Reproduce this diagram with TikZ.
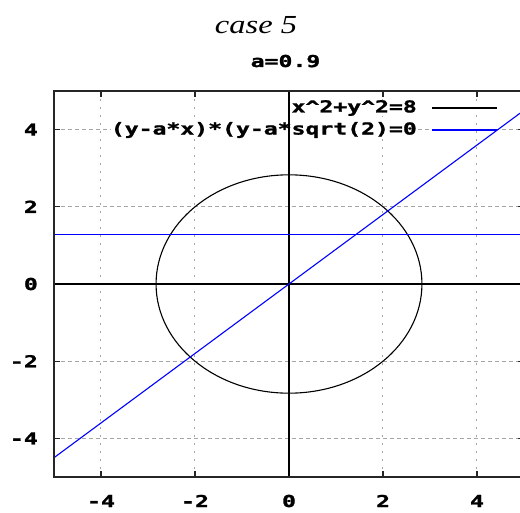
\documentclass[tikz,border=0pt]{standalone}
\usepackage{fontspec}
\newfontfamily\gpfont{DejaVu Sans Mono}[BoldFeatures={FakeBold=1.2}]
\newfontfamily\ttlfont{Liberation Serif}
\newcommand{\gpt}[1]{\scalebox{1.4}[1]{\gpfont\bfseries #1}}
\definecolor{gridgray}{RGB}{165,165,165}
\definecolor{plotblue}{RGB}{0,0,255}
\tikzset{
  lbl/.style={inner sep=0pt,font=\fontsize{16.5}{17}\selectfont},
  key/.style={lbl,anchor=east,fill=white},
  vgrd/.style={gridgray,line width=1pt,dash pattern=on 2pt off 6pt},
  hgrd/.style={gridgray,line width=1pt,dash pattern=on 4pt off 3pt},
  frm/.style={black!85,line width=1.6pt},
  zax/.style={black,line width=1.3pt},
  crv/.style={line width=1.1pt}
}

\begin{document}
\begin{tikzpicture}[x=47pt,y=38.6pt]
\useasboundingbox (-289pt,-228pt) rectangle (231pt,284pt);
\clip (-289pt,-228pt) rectangle (231pt,284pt);

% titles
\node[inner sep=0pt,anchor=base,font=\fontsize{26}{28}\selectfont] (ttl) at (-33pt,251pt) {\scalebox{1.25}[1]{\ttlfont\itshape case 5}};
\node[lbl,anchor=base] (sub) at (-3.5pt,217pt) {\gpt{a=0.9}};

% grid
\draw[vgrd] (-4,-5) -- (-4,5) (-2,-5) -- (-2,5) (2,-5) -- (2,5) (4,-5) -- (4,5);
\draw[hgrd] (-5,-4) -- (5,-4) (-5,-2) -- (5,-2) (-5,2) -- (5,2) (-5,4) -- (5,4);

% key
\node[key] (k1) at (128pt,176pt) {\gpt{x\^{}2+y\^{}2=8}};
\node[key] (k2) at (128pt,154pt) {\gpt{(y-a*x)*(y-a*sqrt(2)=0}};
\coordinate (k1a) at (143pt,176pt);
\coordinate (k1b) at (208pt,176pt);
\coordinate (k2a) at (143pt,154pt);
\coordinate (k2b) at (208pt,154pt);
\draw[crv] (k1a) -- (k1b);
\draw[crv,plotblue] (k2a) -- (k2b);

% zero axes
\draw[zax] (-5,0) -- (5,0);
\draw[zax] (0,-5) -- (0,5);

% tick labels
\node[lbl] (xm4) at (-4,-5) [yshift=-24pt] {\gpt{-4}};
\node[lbl] (xm2) at (-2,-5) [yshift=-24pt] {\gpt{-2}};
\node[lbl] (x0) at (0,-5) [yshift=-24pt] {\gpt{0}};
\node[lbl] (x2) at (2,-5) [yshift=-24pt] {\gpt{2}};
\node[lbl] (x4) at (4,-5) [yshift=-24pt] {\gpt{4}};
\node[lbl,anchor=east] (ym4) at (-5,-4) [xshift=-16pt] {\gpt{-4}};
\node[lbl,anchor=east] (ym2) at (-5,-2) [xshift=-16pt] {\gpt{-2}};
\node[lbl,anchor=east] (y0) at (-5,0) [xshift=-16pt] {\gpt{0}};
\node[lbl,anchor=east] (y2) at (-5,2) [xshift=-16pt] {\gpt{2}};
\node[lbl,anchor=east] (y4) at (-5,4) [xshift=-16pt] {\gpt{4}};

% ticks
\draw[frm,line width=1.2pt] (-4,-5) -- ++(0,6pt) (-2,-5) -- ++(0,6pt) (2,-5) -- ++(0,6pt) (4,-5) -- ++(0,6pt)
  (-4,5) -- ++(0,-6pt) (-2,5) -- ++(0,-6pt) (2,5) -- ++(0,-6pt) (4,5) -- ++(0,-6pt)
  (-5,-4) -- ++(6pt,0) (-5,-2) -- ++(6pt,0) (-5,2) -- ++(6pt,0) (-5,4) -- ++(6pt,0)
  (5,-4) -- ++(-6pt,0) (5,-2) -- ++(-6pt,0) (5,2) -- ++(-6pt,0) (5,4) -- ++(-6pt,0);

% curves
\begin{scope}
\clip (-5,-5) rectangle (5,5);
\draw[crv] (0,0) circle [radius=2.8284];
\draw[crv,plotblue] (-5,-4.5) -- (5,4.5);
\draw[crv,plotblue] (-5,1.2728) -- (5,1.2728);
\end{scope}

% border
\draw[frm] (-5,-5) rectangle (5,5);
\end{tikzpicture}
\end{document}
